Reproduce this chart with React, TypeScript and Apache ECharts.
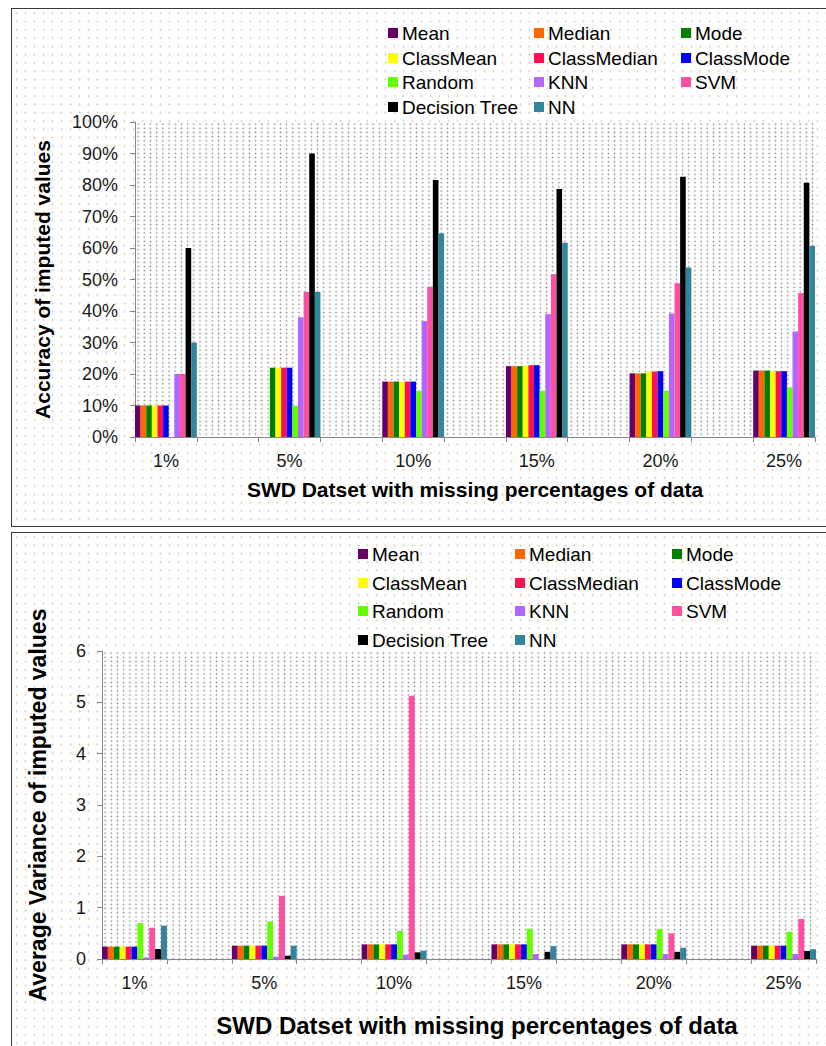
import React, { useEffect, useRef } from "react";
import * as echarts from "echarts";

// ---------- data ----------
const categories = ["1%", "5%", "10%", "15%", "20%", "25%"];
const methods = [
  "Mean", "Median", "Mode", "ClassMean", "ClassMedian", "ClassMode",
  "Random", "KNN", "SVM", "Decision Tree", "NN",
];
const methodColors = [
  "#660066", "#ff6600", "#008000", "#ffff00", "#ff1050", "#0000ff",
  "#66ff00", "#b266ff", "#ff4fa0", "#000000", "#31859c",
];

// Accuracy of imputed values (%)
const accMean = [10, 0, 17.6, 22.5, 20.2, 21.1];
const accMedian = [10, 0, 17.6, 22.5, 20.2, 21.1];
const accMode = [10, 22, 17.6, 22.5, 20.2, 21.1];
const accClassMean = [10, 22, 17.6, 22.7, 20.8, 20.9];
const accClassMedian = [10, 22, 17.6, 22.8, 20.8, 20.9];
const accClassMode = [10, 22, 17.6, 22.8, 20.9, 20.9];
const accRandom = [0, 10, 14.7, 14.7, 14.7, 15.8];
const accKNN = [20, 38, 36.8, 39, 39.2, 33.5];
const accSVM = [20, 46, 47.7, 51.7, 48.8, 45.7];
const accDecisionTree = [60, 90, 81.6, 78.7, 82.6, 80.7];
const accNN = [30, 46, 64.7, 61.7, 53.8, 60.6];

// Average variance of imputed values
const varMean = [0.24, 0.26, 0.285, 0.285, 0.285, 0.26];
const varMedian = [0.24, 0.26, 0.285, 0.285, 0.285, 0.26];
const varMode = [0.24, 0.26, 0.285, 0.285, 0.285, 0.26];
const varClassMean = [0.24, 0.26, 0.285, 0.285, 0.285, 0.26];
const varClassMedian = [0.24, 0.26, 0.285, 0.285, 0.285, 0.26];
const varClassMode = [0.24, 0.26, 0.285, 0.285, 0.285, 0.26];
const varRandom = [0.7, 0.73, 0.55, 0.59, 0.58, 0.53];
const varKNN = [0.03, 0.045, 0.085, 0.097, 0.097, 0.097];
const varSVM = [0.61, 1.23, 5.13, 0, 0.5, 0.78];
const varDecisionTree = [0.195, 0.065, 0.13, 0.14, 0.14, 0.155];
const varNN = [0.65, 0.26, 0.16, 0.25, 0.22, 0.19];

const accuracySeries = [
  accMean, accMedian, accMode, accClassMean, accClassMedian, accClassMode,
  accRandom, accKNN, accSVM, accDecisionTree, accNN,
];
const varianceSeries = [
  varMean, varMedian, varMode, varClassMean, varClassMedian, varClassMode,
  varRandom, varKNN, varSVM, varDecisionTree, varNN,
];

const accTicks = [0, 100, 10];
const varTicks = [0, 6, 1];

// ---------- layout ----------
const FONT = "'Liberation Sans', Arial, Helvetica, sans-serif";
const W = 826;
const H = 1046;
const grid1 = { left: 135, top: 122, width: 680, height: 315 };
const grid2 = { left: 102, top: 651, width: 714, height: 308 };
const legend1Cols = [388, 534, 681];
const legend1Rows = [33, 58, 82, 107];
const legend2Cols = [358, 515, 672];
const legend2Rows = [554, 583, 611, 640];

// interleave blank categories between the real ones
function expand<T>(vals: T[], blank: T): T[] {
  const out: T[] = [];
  vals.forEach((v, i) => {
    out.push(v);
    if (i < vals.length - 1) out.push(blank);
  });
  return out;
}

const App: React.FC = () => {
  const ref = useRef<HTMLDivElement>(null);

  useEffect(() => {
    if (!ref.current) return;
    const chart = echarts.init(ref.current, undefined, { renderer: "svg" });
    const cats = expand(categories, "");

    const axisLineStyle = { color: "#868686", width: 1 };
    const xAxisBase = (
      gridIndex: number,
      nameGap: number,
      nameSize: number,
      pad: number[]
    ) => ({
      type: "category",
      gridIndex,
      data: cats,
      boundaryGap: true,
      axisLine: { show: true, lineStyle: axisLineStyle },
      axisTick: { show: true, length: 5, lineStyle: axisLineStyle },
      axisLabel: {
        interval: 0,
        margin: 15,
        fontSize: 18,
        color: "#1a1a1a",
        fontFamily: FONT,
      },
      splitLine: { show: false },
      name: "SWD Datset with missing percentages of data",
      nameLocation: "middle",
      nameGap,
      nameTextStyle: {
        fontSize: nameSize,
        fontWeight: "bold",
        color: "#000",
        fontFamily: FONT,
        padding: pad,
      },
    });

    const yAxisBase = (
      gridIndex: number,
      ticks: number[],
      fmt: string,
      name: string,
      nameGap: number,
      nameSize: number,
      margin: number
    ) => ({
      type: "value",
      gridIndex,
      min: ticks[0],
      max: ticks[1],
      interval: ticks[2],
      axisLine: { show: true, lineStyle: axisLineStyle },
      axisTick: { show: true, length: 5, lineStyle: axisLineStyle },
      axisLabel: {
        formatter: fmt,
        margin,
        fontSize: 18,
        color: "#1a1a1a",
        fontFamily: FONT,
      },
      splitLine: { show: false },
      name,
      nameLocation: "middle",
      nameRotate: 90,
      nameGap,
      nameTextStyle: {
        fontSize: nameSize,
        fontWeight: "bold",
        color: "#000",
        fontFamily: FONT,
      },
    });

    const series: any[] = [];
    methods.forEach((m, i) => {
      series.push({
        type: "bar",
        name: m,
        xAxisIndex: 0,
        yAxisIndex: 0,
        data: expand(accuracySeries[i] as (number | null)[], null),
        itemStyle: { color: methodColors[i] },
        barGap: "0%",
        barCategoryGap: "0%",
      });
    });
    methods.forEach((m, i) => {
      series.push({
        type: "bar",
        name: m,
        xAxisIndex: 1,
        yAxisIndex: 1,
        data: expand(varianceSeries[i] as (number | null)[], null),
        itemStyle: { color: methodColors[i] },
        barGap: "0%",
        barCategoryGap: "0%",
      });
    });

    const legends: any[] = [];
    const mkLegends = (cols: number[], rows: number[]) => {
      methods.forEach((m, i) => {
        legends.push({
          data: [m],
          left: cols[i % 3],
          top: rows[Math.floor(i / 3)] - 10,
          padding: 0,
          itemWidth: 10,
          itemHeight: 10,
          icon: "rect",
          selectedMode: false,
          textStyle: {
            fontSize: 19,
            lineHeight: 20,
            color: "#000",
            fontFamily: FONT,
            padding: [0, 0, 0, -1],
          },
        });
      });
    };
    mkLegends(legend1Cols, legend1Rows);
    mkLegends(legend2Cols, legend2Rows);

    chart.setOption({
      animation: false,
      backgroundColor: "transparent",
      textStyle: { fontFamily: FONT },
      legend: legends,
      grid: [
        { ...grid1, containLabel: false },
        { ...grid2, containLabel: false },
      ],
      xAxis: [
        xAxisBase(0, 42, 21, [0, 0, 0, 0]),
        xAxisBase(1, 54, 24, [0, 0, 0, 36]),
      ],
      yAxis: [
        yAxisBase(0, accTicks, "{value}%", "Accuracy of imputed values", 82, 21, 17),
        yAxisBase(1, varTicks, "{value}", "Average Variance of imputed values", 53, 23, 16),
      ],
      series,
    });

    return () => chart.dispose();
  }, []);

  const panelDots =
    "radial-gradient(circle, #d6d1b4 0.8px, rgba(255,255,255,0) 1.2px)";
  const plotDots =
    "radial-gradient(circle, #8c8c8c 0.65px, rgba(255,255,255,0) 1.05px)";

  const panelStyle = (top: number, height: number): React.CSSProperties => ({
    position: "absolute",
    left: 11,
    top,
    width: 840,
    height,
    border: "1.5px solid #3a3a3a",
    boxSizing: "border-box",
    backgroundColor: "#ffffff",
    backgroundImage: panelDots,
    backgroundSize: "9px 8.3px",
  });
  const plotStyle = (g: typeof grid1): React.CSSProperties => ({
    position: "absolute",
    left: g.left,
    top: g.top,
    width: g.width,
    height: g.height,
    backgroundColor: "#ffffff",
    backgroundImage: plotDots,
    backgroundSize: "6.2px 4.2px",
  });

  return (
    <div
      style={{
        position: "absolute",
        left: 0,
        top: 0,
        width: W,
        height: H,
        overflow: "hidden",
        background: "#ffffff",
      }}
    >
      <div style={panelStyle(8, 519)} />
      <div style={panelStyle(532, 530)} />
      <div style={plotStyle(grid1)} />
      <div style={plotStyle(grid2)} />
      <div
        ref={ref}
        style={{ position: "absolute", left: 0, top: 0, width: W, height: H }}
      />
    </div>
  );
};

export default App;
